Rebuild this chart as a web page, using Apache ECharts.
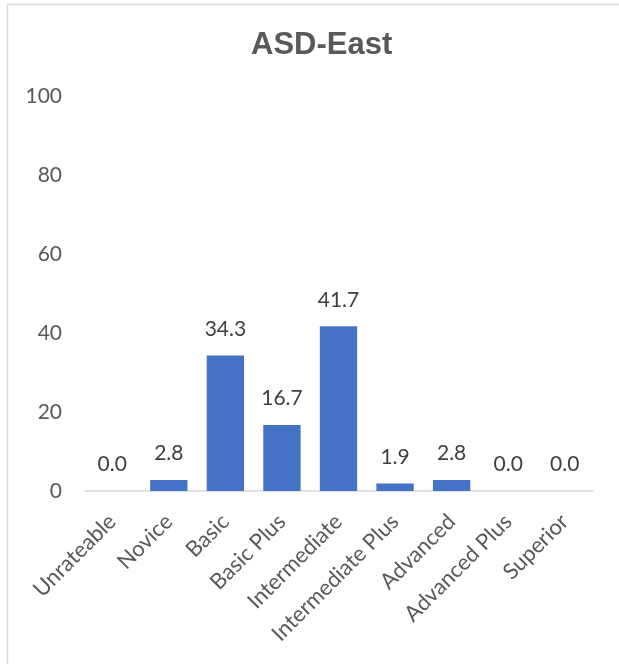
<!DOCTYPE html>
<html>
<head>
<meta charset="utf-8">
<title>ASD-East</title>
<script src="https://cdn.jsdelivr.net/npm/echarts@6/dist/echarts.min.js"></script>
<style>
  html, body { margin: 0; padding: 0; background: #ffffff; }
  #chart { width: 619px; height: 664px; }
</style>
</head>
<body>
<div id="chart"></div>
<script>
// Proficiency levels and the share (%) of ratings at each level
const categories = ['Unrateable', 'Novice', 'Basic', 'Basic Plus', 'Intermediate',
  'Intermediate Plus', 'Advanced', 'Advanced Plus', 'Superior'];
const values = [0.0, 2.8, 34.3, 16.7, 41.7, 1.9, 2.8, 0.0, 0.0];
const yTicks = [0, 20, 40, 60, 80, 100];

const chart = echarts.init(document.getElementById('chart'), null, { renderer: 'canvas' });

const bodyFont = 'Lato, "Open Sans", sans-serif';

chart.setOption({
  animation: false,
  backgroundColor: '#ffffff',
  title: {
    text: 'ASD-East',
    left: 246,
    top: 25,
    textStyle: {
      fontFamily: '"Liberation Sans", Arial, sans-serif',
      fontWeight: 'bold',
      fontSize: 31,
      color: '#595959'
    }
  },
  graphic: [{
    type: 'rect',
    shape: { x: 7.5, y: 4.5, width: 700, height: 700 },
    style: { fill: 'none', stroke: '#d9d9d9', lineWidth: 1.5 },
    silent: true,
    z: -1
  }],
  grid: { left: 84, right: 26, top: 96, bottom: 173, containLabel: false },
  xAxis: {
    type: 'category',
    data: categories,
    axisLine: { show: true, lineStyle: { color: '#d9d9d9', width: 1.5 } },
    axisTick: { show: false },
    axisLabel: {
      interval: 0,
      rotate: 45,
      margin: 27,
      fontFamily: bodyFont,
      fontSize: 22,
      color: '#595959'
    }
  },
  yAxis: {
    type: 'value',
    min: yTicks[0],
    max: yTicks[yTicks.length - 1],
    interval: yTicks[1] - yTicks[0],
    axisLine: { show: false },
    axisTick: { show: false },
    splitLine: { show: false },
    axisLabel: {
      margin: 22,
      fontFamily: bodyFont,
      fontSize: 21,
      color: '#595959'
    }
  },
  series: [{
    type: 'bar',
    data: values,
    barCategoryGap: '34%',
    itemStyle: { color: '#4472c4' },
    label: {
      show: true,
      position: 'top',
      distance: 16,
      formatter: p => p.value.toFixed(1),
      fontFamily: bodyFont,
      fontSize: 21,
      color: '#404040'
    }
  }]
});
</script>
</body>
</html>
